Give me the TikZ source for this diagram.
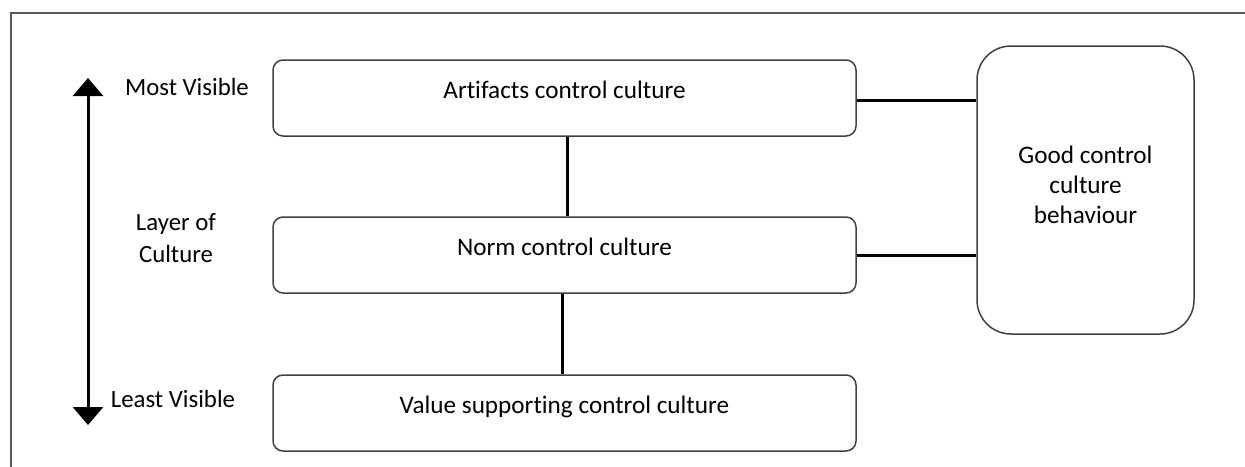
\documentclass[tikz,border=0pt]{standalone}
\usepackage{fontspec}
\setmainfont{Carlito}[Ligatures=CommonOff]
\usetikzlibrary{arrows.meta,positioning}

\begin{document}
\begin{tikzpicture}[x=0.5pt,y=-0.5pt,
    layerbox/.style={draw=black!75, line width=0.75pt, rounded corners=5pt,
        minimum width=291.5pt, minimum height=38pt, text height=6pt, text depth=6pt,
        font=\fontsize{12.6}{15}\selectfont},
    goodbox/.style={draw=black!75, line width=0.75pt, rounded corners=17pt,
        minimum width=108.5pt, minimum height=144pt, align=center,
        text height=33pt, text depth=0pt, font=\fontsize{12.6}{15}\selectfont},
    lbl/.style={align=center, font=\fontsize{12.4}{16}\selectfont},
    link/.style={line width=1.5pt, black}]
    \useasboundingbox (0,0) rectangle (1245,466);
    % outer frame
    \draw[black!65, line width=1pt] (11,480) -- (11,13) -- (1260,13);

    % layers
    \node[layerbox] (artifacts) at (564.5,98) {Artifacts control culture};
    \node[layerbox] (norm) at (564.5,255) {Norm control culture};
    \node[layerbox] (value) at (564.5,413) {Value supporting control culture};
    \node[goodbox] (good) at (1085.5,190) {Good control\\culture\\behaviour};

    % visibility axis
    \coordinate (top) at (88,78);
    \coordinate (bottom) at (88,425);
    \draw[line width=1.5pt, {Triangle[width=15pt,length=9pt]}-{Triangle[width=15pt,length=9pt]}] (top) -- (bottom);
    \node[lbl] (most) at (187,87) {Most Visible};
    \node[lbl] (layer) at (176,238) {Layer of\\Culture};
    \node[lbl] (least) at (173,399) {Least Visible};

    % connectors
    \draw[link] ([xshift=1.25pt]artifacts.south) -- ([xshift=1.25pt]norm.north);
    \draw[link] ([xshift=-1.25pt]norm.south) -- ([xshift=-1.25pt]value.north);
    \draw[link] ([yshift=-1pt]artifacts.east) -- ([yshift=-1pt]artifacts.east -| good.west);
    \draw[link] (norm.east) -- (norm.east -| good.west);
\end{tikzpicture}
\end{document}
